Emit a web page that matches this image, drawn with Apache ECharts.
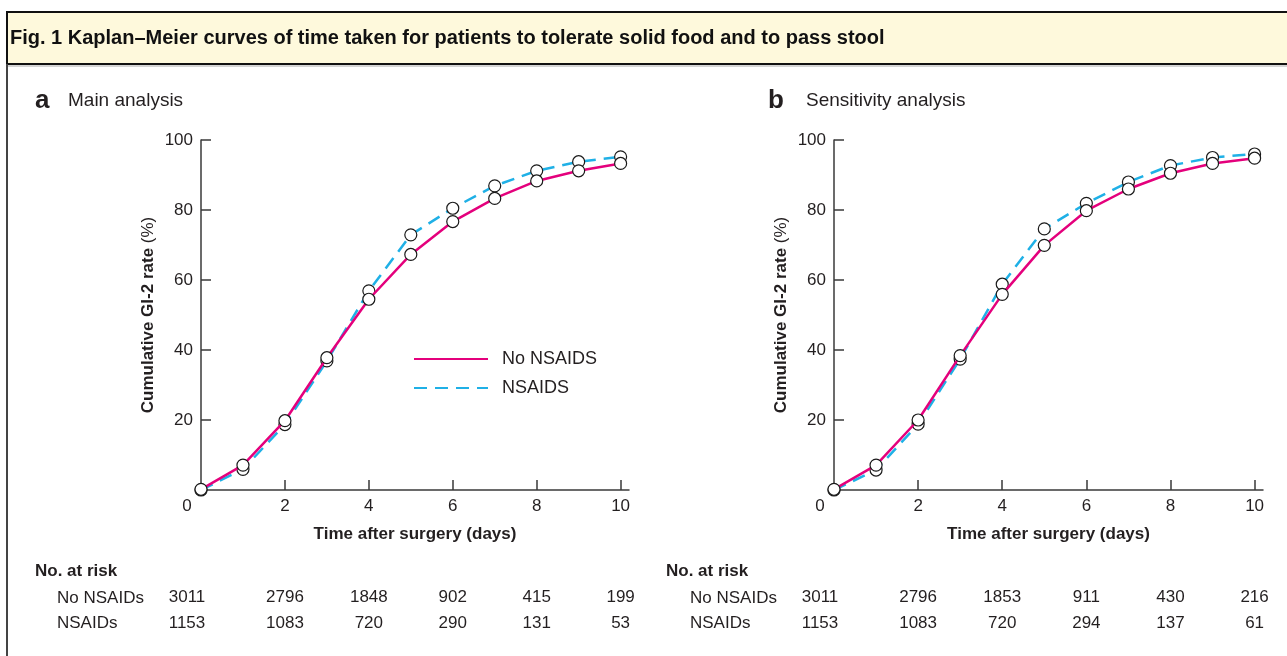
<!DOCTYPE html>
<html>
<head>
<meta charset="utf-8">
<title>Kaplan-Meier curves</title>
<script src="https://cdn.jsdelivr.net/npm/echarts@6/dist/echarts.min.js"></script>
<style>
  html, body { margin: 0; padding: 0; background: #fff; }
  #chart { width: 1287px; height: 656px; }
</style>
</head>
<body>
<div id="chart"></div>
<script>
// values (cumulative GI-2 rate, %)
const days = [0, 1, 2, 3, 4, 5, 6, 7, 8, 9, 10]
const mainNoNsaids = [0.2, 7.1, 19.8, 37.8, 54.5, 67.3, 76.7, 83.3, 88.3, 91.2, 93.3]
const mainNsaids = [0, 5.9, 18.7, 36.9, 56.9, 72.9, 80.5, 86.9, 91.2, 93.8, 95.2]
const sensNoNsaids = [0.2, 7.1, 20.0, 38.4, 55.9, 69.9, 79.8, 86.0, 90.5, 93.3, 94.8]
const sensNsaids = [0, 5.7, 18.8, 37.4, 58.8, 74.6, 81.9, 88.0, 92.7, 95.0, 96.0]

// number at risk, every second day
const riskDays = [0, 2, 4, 6, 8, 10]
const mainRiskNo = [3011, 2796, 1848, 902, 415, 199]
const mainRiskYes = [1153, 1083, 720, 290, 131, 53]
const sensRiskNo = [3011, 2796, 1853, 911, 430, 216]
const sensRiskYes = [1153, 1083, 720, 294, 137, 61]

const xTicks = [2, 4, 6, 8, 10]
const yTicks = [20, 40, 60, 80, 100]

const FONT = '"Liberation Sans", Arial, sans-serif'
const INK = '#231f20'
const PINK = '#e4007c'
const BLUE = '#1fb0e6'

const chart = echarts.init(document.getElementById('chart'))

const grids = [
  { left: 201, top: 140, width: 428, height: 350 },
  { left: 834, top: 140, width: 429, height: 350 },
]

const xAxes = []
const yAxes = []
const series = []

// first column sits left of the axis, like the "0" label
const shiftFirst = (v, text) => (v === 0 ? '{z|' + text + '}' : '{n|' + text + '}')
const labelRich = (size) => ({
  z: { fontFamily: FONT, fontSize: size, color: INK, padding: [0, 28, 0, 0] },
  n: { fontFamily: FONT, fontSize: size, color: INK },
})

const addPanel = (g, noNsaids, nsaids, riskNo, riskYes) => {
  const xIndex = xAxes.length
  xAxes.push({
    type: 'value', gridIndex: g, min: 0, max: 10.2,
    name: 'Time after surgery (days)', nameLocation: 'middle', nameGap: 36,
    nameTextStyle: { fontFamily: FONT, fontSize: 17, fontWeight: 'bold', color: INK },
    axisLine: { lineStyle: { color: '#3a3a3a', width: 1.5 } },
    axisTick: { inside: true, length: 10, customValues: xTicks, lineStyle: { color: '#3a3a3a', width: 1.5 } },
    axisLabel: { margin: 8, customValues: riskDays, formatter: (v) => shiftFirst(v, String(v)), rich: labelRich(17) },
    splitLine: { show: false },
  })
  // the two "No. at risk" rows ride on extra hidden x axes
  ;[riskNo, riskYes].forEach((row, i) => {
    xAxes.push({
      type: 'value', gridIndex: g, min: 0, max: 10.2, position: 'bottom', offset: 99 + i * 26,
      axisLine: { show: false }, axisTick: { show: false }, splitLine: { show: false },
      axisLabel: {
        margin: 0, customValues: riskDays,
        formatter: (v) => shiftFirst(v, String(row[riskDays.indexOf(v)])),
        rich: labelRich(17),
      },
    })
  })
  const yIndex = yAxes.length
  yAxes.push({
    type: 'value', gridIndex: g, min: 0, max: 100, interval: 20,
    name: '{b|Cumulative GI-2 rate }{r|(%)}', nameLocation: 'middle', nameGap: 44,
    nameTextStyle: {
      rich: {
        b: { fontFamily: FONT, fontSize: 17, fontWeight: 'bold', color: INK },
        r: { fontFamily: FONT, fontSize: 17, color: INK },
      },
    },
    axisLine: { lineStyle: { color: '#3a3a3a', width: 1.5 } },
    axisTick: { inside: true, length: 10, customValues: yTicks, lineStyle: { color: '#3a3a3a', width: 1.5 } },
    axisLabel: { margin: 8, customValues: yTicks, fontFamily: FONT, fontSize: 17, color: INK },
    splitLine: { show: false },
  })
  const dot = { color: '#fff', borderColor: '#1a1a1a', borderWidth: 1.2 }
  series.push(
    {
      name: 'No NSAIDS', type: 'line', xAxisIndex: xIndex, yAxisIndex: yIndex,
      data: days.map((d, i) => [d, noNsaids[i]]),
      symbol: 'circle', symbolSize: 12, itemStyle: dot,
      lineStyle: { color: PINK, width: 2.5 }, z: 3,
    },
    {
      name: 'NSAIDS', type: 'line', xAxisIndex: xIndex, yAxisIndex: yIndex,
      data: days.map((d, i) => [d, nsaids[i]]),
      symbol: 'circle', symbolSize: 12, itemStyle: dot,
      lineStyle: { color: BLUE, width: 2.5, type: [13, 8] }, z: 2,
    },
  )
}

addPanel(0, mainNoNsaids, mainNsaids, mainRiskNo, mainRiskYes)
addPanel(1, sensNoNsaids, sensNsaids, sensRiskNo, sensRiskYes)

const txt = (x, y, text, size, bold) => ({
  type: 'text', x, y,
  style: { text, fontFamily: FONT, fontSize: size, fontWeight: bold ? 'bold' : 'normal', fill: INK, verticalAlign: 'middle' },
})

chart.setOption({
  backgroundColor: '#fff',
  animation: false,
  title: {
    text: 'Fig. 1 Kaplan\u2013Meier curves of time taken for patients to tolerate solid food and to pass stool',
    left: 10, top: 28, padding: 0,
    textStyle: { fontFamily: FONT, fontSize: 20, fontWeight: 'bold', color: '#111' },
  },
  legend: {
    orient: 'vertical', left: 413, top: 350, padding: 0, itemWidth: 74, itemHeight: 14, itemGap: 11,
    data: ['No NSAIDS', 'NSAIDS'],
    itemStyle: { opacity: 0 },
    textStyle: { fontFamily: FONT, fontSize: 18, color: INK, padding: [0, 0, 0, 9] },
  },
  grid: grids,
  xAxis: xAxes,
  yAxis: yAxes,
  series,
  graphic: [
    { type: 'rect', z: -10, shape: { x: 7, y: 12, width: 1300, height: 52 }, style: { fill: '#fef9dc', stroke: '#111', lineWidth: 2 } },
    { type: 'line', z: -10, shape: { x1: 8, y1: 66, x2: 1290, y2: 66 }, style: { stroke: '#aaa', lineWidth: 1 } },
    { type: 'line', z: -10, shape: { x1: 7, y1: 64, x2: 7, y2: 660 }, style: { stroke: '#444', lineWidth: 2 } },
    txt(35, 101, 'a', 26, true),
    txt(68, 101, 'Main analysis', 19, false),
    txt(768, 101, 'b', 26, true),
    txt(806, 101, 'Sensitivity analysis', 19, false),
    txt(35, 571, 'No. at risk', 17, true),
    txt(57, 598, 'No NSAIDs', 17, false),
    txt(57, 623, 'NSAIDs', 17, false),
    txt(666, 571, 'No. at risk', 17, true),
    txt(690, 598, 'No NSAIDs', 17, false),
    txt(690, 623, 'NSAIDs', 17, false),
  ],
})
</script>
</body>
</html>
